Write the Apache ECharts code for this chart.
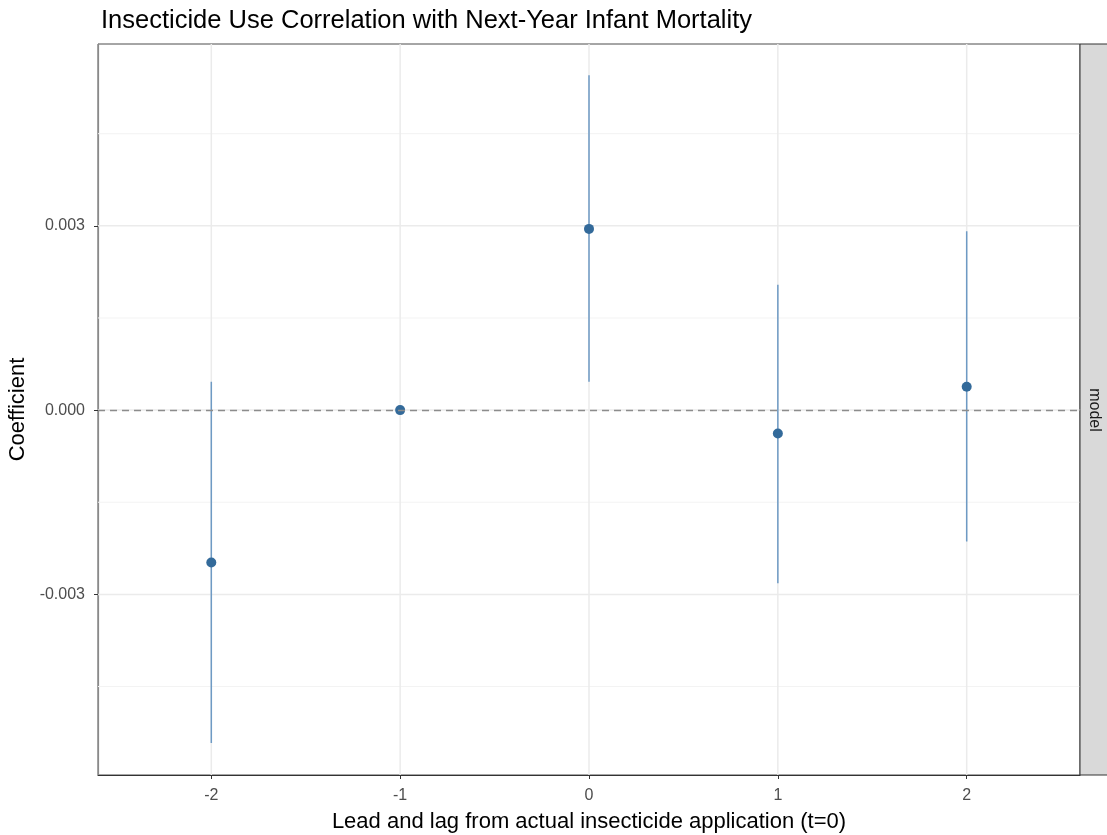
<!DOCTYPE html>
<html>
<head>
<meta charset="utf-8">
<title>Insecticide Use Correlation</title>
<script src="https://cdn.jsdelivr.net/npm/echarts@6.0.0/dist/echarts.min.js"></script>
<style>
    html, body { margin: 0; padding: 0; background: #fff; }
    #chart { width: 1107px; height: 835px; }
</style>
</head>
<body>
<div id="chart"></div>
<script>
// lead / lag from application year
var leads = [-2, -1, 0, 1, 2];
// point estimates
var coef = [-0.00248, 0.0, 0.00295, -0.00038, 0.00038];
// confidence interval ends
var ciLow = [-0.00542, 0.0, 0.00046, -0.00282, -0.00214];
var ciHigh = [0.00046, 0.0, 0.00545, 0.00204, 0.00291];
// tick positions
var xTicks = [-2, -1, 0, 1, 2];
var yTicks = [-0.003, 0, 0.003];
var yMinor = [-0.0045, -0.0015, 0.0015, 0.0045];

var chart = echarts.init(document.getElementById('chart'));

var pointData = [];
var barData = [];
for (var i = 0; i < leads.length; i++) {
    pointData.push([leads[i], coef[i]]);
    barData.push([leads[i], ciLow[i], ciHigh[i]]);
}

//网格线 [kind, value]  kind 0 = 横向次要, 1 = 横向主要, 2 = 纵向
var gridData = [];
yMinor.forEach(function (v) { gridData.push([0, v]); });
yTicks.forEach(function (v) { gridData.push([1, v]); });
xTicks.forEach(function (v) { gridData.push([2, v]); });

var FONT = 'Liberation Sans, Arial, sans-serif';

var option = {
    backgroundColor: '#ffffff',
    animation: false,
    textStyle: { fontFamily: FONT },
    title: {
        text: 'Insecticide Use Correlation with Next-Year Infant Mortality',
        left: 96,
        top: 3,
        textStyle: {
            fontSize: 25.5,
            fontWeight: 'normal',
            color: '#000',
            fontFamily: FONT
        }
    },
    grid: {
        left: 98,
        top: 44,
        right: 27,
        bottom: 60,
        containLabel: false,
        outerBoundsMode: 'none',
        show: true,
        borderColor: '#4d4d4d',
        borderWidth: 1
    },
    xAxis: {
        type: 'value',
        min: -2.6,
        max: 2.6,
        name: 'Lead and lag from actual insecticide application (t=0)',
        nameLocation: 'middle',
        nameGap: 36,
        nameTextStyle: { fontSize: 22, color: '#000' },
        axisLine: { show: true, onZero: false, lineStyle: { color: '#333', width: 1.2 } },
        axisTick: { show: true, length: 4, customValues: xTicks, lineStyle: { color: '#333' } },
        axisLabel: {
            customValues: xTicks,
            fontSize: 16,
            color: '#4d4d4d',
            margin: 13
        },
        splitLine: { show: false }
    },
    yAxis: {
        type: 'value',
        min: -0.00594,
        max: 0.00596,
        name: 'Coefficient',
        nameLocation: 'middle',
        nameGap: 64,
        nameTextStyle: { fontSize: 22, color: '#000' },
        axisLine: { show: true, onZero: false, lineStyle: { color: '#8a8a8a', width: 1.2 } },
        axisTick: { show: true, length: 4, customValues: yTicks, lineStyle: { color: '#333' } },
        axisLabel: {
            customValues: yTicks,
            fontSize: 16,
            color: '#4d4d4d',
            margin: 13,
            formatter: function (v) {
                return v.toFixed(3);
            }
        },
        splitLine: { show: false }
    },
    series: [
        {
            type: 'custom',
            z: 1,
            silent: true,
            data: gridData,
            encode: { x: -1, y: -1 },
            renderItem: function (params, api) {
                var cs = params.coordSys;
                var kind = api.value(0);
                var v = api.value(1);
                if (kind === 2) {
                    var px = api.coord([v, 0])[0];
                    return {
                        type: 'line',
                        shape: { x1: px, y1: cs.y, x2: px, y2: cs.y + cs.height },
                        style: { stroke: '#ebebeb', lineWidth: 1.5 }
                    };
                }
                var py = api.coord([0, v])[1];
                return {
                    type: 'line',
                    shape: { x1: cs.x, y1: py, x2: cs.x + cs.width, y2: py },
                    style: { stroke: kind === 1 ? '#ebebeb' : '#f3f3f3', lineWidth: kind === 1 ? 1.5 : 1 }
                };
            }
        },
        {
            type: 'custom',
            z: 3,
            data: barData,
            renderItem: function (params, api) {
                var p1 = api.coord([api.value(0), api.value(1)]);
                var p2 = api.coord([api.value(0), api.value(2)]);
                return {
                    type: 'line',
                    shape: { x1: p1[0], y1: p1[1], x2: p2[0], y2: p2[1] },
                    style: { stroke: '#6e9ac4', lineWidth: 1.5 }
                };
            }
        },
        {
            type: 'scatter',
            z: 4,
            data: pointData,
            symbolSize: 10,
            itemStyle: { color: '#336a9a', opacity: 1 }
        },
        {
            type: 'scatter',
            data: [],
            z: 6,
            silent: true,
            markLine: {
                z: 6,
                silent: true,
                symbol: ['none', 'none'],
                label: { show: false },
                data: [{ yAxis: 0, lineStyle: { color: '#8c8c8c', width: 1.3, type: [7, 5] } }]
            }
        }
    ],
    graphic: [
        {
            type: 'rect',
            shape: { x: 1080, y: 44, width: 40, height: 731 },
            style: { fill: '#d9d9d9', stroke: '#333', lineWidth: 1 },
            z: 10
        },
        {
            type: 'text',
            x: 1094,
            y: 410,
            rotation: -Math.PI / 2,
            style: {
                text: 'model',
                fontSize: 16,
                fill: '#1a1a1a',
                align: 'center',
                verticalAlign: 'middle',
                fontFamily: FONT
            },
            z: 11
        }
    ]
};

chart.setOption(option);
</script>
</body>
</html>
